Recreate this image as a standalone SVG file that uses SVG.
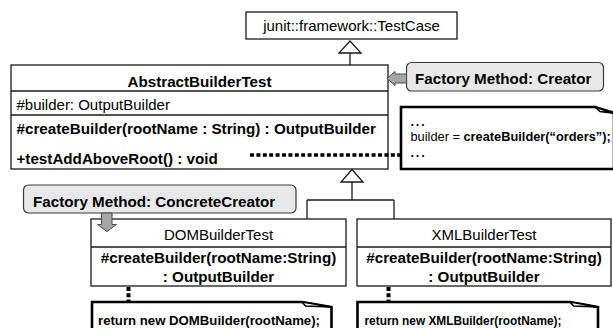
<svg xmlns="http://www.w3.org/2000/svg" width="613" height="328" viewBox="0 0 613 328">
<defs>
<style>
text{font-family:"Liberation Sans",Arial,sans-serif;fill:#000}
.r{font-size:15px}
.b{font-size:15.2px;font-weight:bold}
.c{font-size:12.8px}
.cb{font-size:12.8px;font-weight:bold}
.box{fill:#fff;stroke:#1a1a1a;stroke-width:1.3}
.sep{stroke:#1a1a1a;stroke-width:1.3;fill:none}
.note{fill:#fff;stroke:#000;stroke-width:2.6;stroke-linejoin:miter}
.fold{fill:#fff;stroke:#000;stroke-width:1.5;stroke-linejoin:miter}
.call{fill:#e8e8e8;stroke:#3a3a3a;stroke-width:1.2}
.garrow{fill:#a6a6a6;stroke:#4a4a4a;stroke-width:1}
.line{stroke:#1a1a1a;stroke-width:1.3;fill:none}
.tri{fill:#fff;stroke:#1a1a1a;stroke-width:1.3}
.dot{stroke:#000;stroke-width:3.5;fill:none;stroke-dasharray:4 2.4}
.dotv{stroke:#000;stroke-width:4;fill:none;stroke-dasharray:4 2.2}
</style>
</defs>

<g id="testcase">
<rect class="box" x="246" y="12" width="211" height="27"/>
<text class="r" x="351.5" y="31" text-anchor="middle">junit::framework::TestCase</text>
</g>

<g id="abstractbuildertest">
<rect class="box" x="11" y="65" width="377" height="104"/>
<path class="sep" d="M11,91 H388 M11,115 H388"/>
<text class="b" x="199.5" y="86.5" text-anchor="middle">AbstractBuilderTest</text>
<text class="r" x="16.5" y="110">#builder: OutputBuilder</text>
<text class="b" x="16.5" y="134">#createBuilder(rootName : String) : OutputBuilder</text>
<text class="b" x="16.5" y="164">+testAddAboveRoot() : void</text>
</g>

<g id="creator-callout">
<rect class="call" x="406.5" y="62.5" width="197" height="28.5" rx="5"/>
<text class="b" x="415" y="84">Factory Method: Creator</text>
<polygon class="garrow" points="387,78.5 395,71.5 395,74 406.5,74 406.5,83 395,83 395,85.5"/>
</g>

<g id="code-note">
<path class="note" d="M401,107 H595 L614,113 V169 H401 Z"/>
<polygon class="fold" points="595,107 612,113 600,111.5"/>
<text class="cb" x="410.5" y="126" letter-spacing="1.8">...</text>
<text class="c" x="410.5" y="141">builder = <tspan font-weight="bold">createBuilder(“orders”);</tspan></text>
<text class="cb" x="410.5" y="157" letter-spacing="1.8">...</text>
</g>

<g id="dombuildertest">
<rect class="box" x="91" y="219" width="255" height="67"/>
<path class="sep" d="M91,247 H346"/>
<text class="r" x="218.5" y="240" text-anchor="middle">DOMBuilderTest</text>
<text class="b" x="218.5" y="263" text-anchor="middle">#createBuilder(rootName:String)</text>
<text class="b" x="218.5" y="282" text-anchor="middle">: OutputBuilder</text>
</g>

<g id="xmlbuildertest">
<rect class="box" x="357" y="219" width="254" height="67"/>
<path class="sep" d="M357,247 H611"/>
<text class="r" x="484" y="240" text-anchor="middle">XMLBuilderTest</text>
<text class="b" x="484" y="263" text-anchor="middle">#createBuilder(rootName:String)</text>
<text class="b" x="484" y="282" text-anchor="middle">: OutputBuilder</text>
</g>

<g id="concretecreator-callout">
<rect class="call" x="23.5" y="185" width="272.5" height="28" rx="5"/>
<text class="b" x="33" y="207">Factory Method: ConcreteCreator</text>
<polygon class="garrow" points="107,231.5 97.5,224.5 101.5,224.5 101.5,213 112,213 112,224.5 116.5,224.5"/>
</g>

<g id="dom-note">
<path class="note" d="M92,332 V302 H302 L331.5,307 V332"/>
<polygon class="fold" points="302,302 331.5,307 305.5,306"/>
<text class="cb" x="98" y="324.5" textLength="222" lengthAdjust="spacingAndGlyphs">return new DOMBuilder(rootName);</text>
</g>

<g id="xml-note">
<path class="note" d="M357.5,332 V302 H570 L598,307 V332"/>
<polygon class="fold" points="570,302 598,307 573.5,306"/>
<text class="cb" x="364.5" y="324.5" textLength="197" lengthAdjust="spacingAndGlyphs">return new XMLBuilder(rootName);</text>
</g>

<g id="connectors">
<path class="line" d="M350,53 V65"/>
<polygon class="tri" points="350,41 339,53 361,53"/>
<path class="line" d="M352,182 V200 M307,200 H394 M307,200 V219 M394,200 V219"/>
<polygon class="tri" points="352,169.5 341,182 363,182"/>
<path class="dot" d="M250,155 H400"/>
<path class="dotv" d="M128.5,287 V301"/>
<path class="dotv" d="M388.5,287 V301"/>
</g>
</svg>
